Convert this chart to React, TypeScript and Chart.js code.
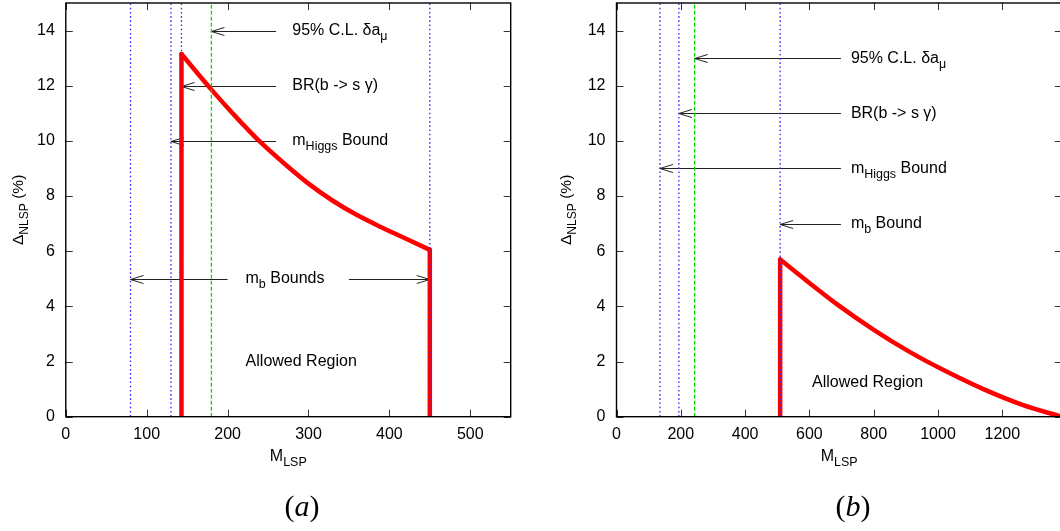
import React, { useEffect, useRef } from 'react';
import { Chart, registerables } from 'chart.js';

Chart.register(...registerables);

const FONT = '"Liberation Sans", Arial, Helvetica, sans-serif';
const SERIF = '"Liberation Serif", "DejaVu Serif", serif';

// ---------------- Panel (a) data ----------------
const A_X_MAX = 550;
const A_X_TICKS = [0, 100, 200, 300, 400, 500];
const A_CURVE_X = [143, 180, 210, 240, 270, 300, 330, 360, 390, 420, 450];
const A_CURVE_Y = [13.15, 11.86, 10.88, 9.97, 9.18, 8.45, 7.83, 7.31, 6.87, 6.46, 6.05];
const A_WALL_X = [143, 450];
const A_WALL_TOP = [13.15, 6.05];
const A_BLUE_X = [80, 130, 143, 450];
const A_GREEN_X = [180];
const A_LABELS = ['95% C.L. δa_{μ}', 'BR(b -> s γ)', 'm_{Higgs} Bound'];
const A_LABEL_Y = [14, 12, 10];
const A_ARROW_TIP = [180, 143, 130];
const A_ARROW_TAIL = 260;
const A_LABEL_X = 280;
const A_MB_LABEL = 'm_{b} Bounds';
const A_MB_Y = 5;
const A_MB_TAILS = [200, 350];
const A_MB_TIPS = [80, 450];
const A_MB_X = 271;
const A_ALLOWED = { x: 291, y: 2.0 };

// ---------------- Panel (b) data ----------------
const B_X_MAX = 1385;
const B_X_TICKS = [0, 200, 400, 600, 800, 1000, 1200];
const B_CURVE_X = [509, 602, 685, 799, 913, 1017, 1141, 1265, 1385];
const B_CURVE_Y = [5.7, 4.83, 4.08, 3.16, 2.34, 1.69, 1.0, 0.42, 0.0];
const B_WALL_X = [509];
const B_WALL_TOP = [5.7];
const B_BLUE_X = [135, 194, 509];
const B_GREEN_X = [243];
const B_LABELS = ['95% C.L. δa_{μ}', 'BR(b -> s γ)', 'm_{Higgs} Bound', 'm_{b} Bound'];
const B_LABEL_Y = [13, 11, 9, 7];
const B_ARROW_TIP = [243, 194, 135, 509];
const B_ARROW_TAIL = 698;
const B_LABEL_X = 729;
const B_ALLOWED = { x: 781, y: 1.22 };

const Y_MAX = 15;
const Y_TICKS = [0, 2, 4, 6, 8, 10, 12, 14];
const Y_TITLE = 'Δ_{NLSP} (%)';
const X_TITLE = 'M_{LSP}';

type Arrow = { tail: number; tip: number; y: number };
type Label = { x: number; y: number; text: string; align: 'left' | 'center' };
type Panel = {
  xMax: number; xTicks: number[];
  curveX: number[]; curveY: number[];
  wallX: number[]; wallTop: number[];
  blueX: number[]; greenX: number[];
  arrows: Arrow[]; labels: Label[];
  caption: string;
  canvasW: number; offsetX: number; yAxisW: number; padRight: number;
  yTitleDx: number; captionX: number;
};

const PANEL_A: Panel = {
  xMax: A_X_MAX, xTicks: A_X_TICKS,
  curveX: A_CURVE_X, curveY: A_CURVE_Y,
  wallX: A_WALL_X, wallTop: A_WALL_TOP,
  blueX: A_BLUE_X, greenX: A_GREEN_X,
  arrows: [
    ...A_ARROW_TIP.map((tip, i) => ({ tail: A_ARROW_TAIL, tip, y: A_LABEL_Y[i] })),
    ...A_MB_TIPS.map((tip, i) => ({ tail: A_MB_TAILS[i], tip, y: A_MB_Y })),
  ],
  labels: [
    ...A_LABELS.map((text, i) => ({ x: A_LABEL_X, y: A_LABEL_Y[i], text, align: 'left' as const })),
    { x: A_MB_X, y: A_MB_Y, text: A_MB_LABEL, align: 'center' },
    { x: A_ALLOWED.x, y: A_ALLOWED.y, text: 'Allowed Region', align: 'center' },
  ],
  caption: 'a',
  canvasW: 530, offsetX: 0, yAxisW: 65.8, padRight: 19.3, yTitleDx: 47.5, captionX: 302,
};

const PANEL_B: Panel = {
  xMax: B_X_MAX, xTicks: B_X_TICKS,
  curveX: B_CURVE_X, curveY: B_CURVE_Y,
  wallX: B_WALL_X, wallTop: B_WALL_TOP,
  blueX: B_BLUE_X, greenX: B_GREEN_X,
  arrows: B_ARROW_TIP.map((tip, i) => ({ tail: B_ARROW_TAIL, tip, y: B_LABEL_Y[i] })),
  labels: [
    ...B_LABELS.map((text, i) => ({ x: B_LABEL_X, y: B_LABEL_Y[i], text, align: 'left' as const })),
    { x: B_ALLOWED.x, y: B_ALLOWED.y, text: 'Allowed Region', align: 'center' },
  ],
  caption: 'b',
  canvasW: 540, offsetX: 530, yAxisW: 86.5, padRight: 8.2, yTitleDx: 50, captionX: 323,
};

const H = 531;
const PLOT_TOP = 3;
const PLOT_BOTTOM = 416.7;

function parseRich(s: string) {
  const parts: { t: string; sub: boolean }[] = [];
  const re = /_\{([^}]*)\}/g;
  let last = 0;
  let m: RegExpExecArray | null;
  while ((m = re.exec(s))) {
    if (m.index > last) parts.push({ t: s.slice(last, m.index), sub: false });
    parts.push({ t: m[1], sub: true });
    last = m.index + m[0].length;
  }
  if (last < s.length) parts.push({ t: s.slice(last), sub: false });
  return parts;
}

function drawRich(ctx: CanvasRenderingContext2D, s: string, x: number, y: number, align: 'left' | 'center', size: number) {
  const parts = parseRich(s);
  const subSize = size * 0.78;
  let w = 0;
  for (const p of parts) {
    ctx.font = `${p.sub ? subSize : size}px ${FONT}`;
    w += ctx.measureText(p.t).width;
  }
  let cx = align === 'center' ? x - w / 2 : x;
  ctx.textAlign = 'left';
  ctx.textBaseline = 'middle';
  for (const p of parts) {
    ctx.font = `${p.sub ? subSize : size}px ${FONT}`;
    ctx.fillText(p.t, cx, p.sub ? y + 6 : y);
    cx += ctx.measureText(p.t).width;
  }
}

function makePlugin(panel: Panel) {
  return {
    id: 'gnuframe',
    beforeDatasetsDraw(chart: any) {
      const { ctx } = chart;
      const xs = chart.scales.x;
      const ys = chart.scales.y;
      ctx.save();
      ctx.strokeStyle = '#222';
      ctx.lineWidth = 1;
      for (const a of panel.arrows) {
        const x1 = xs.getPixelForValue(a.tail);
        const x2 = xs.getPixelForValue(a.tip);
        const y = Math.round(ys.getPixelForValue(a.y)) + 0.5;
        const dir = Math.sign(x1 - x2);
        ctx.beginPath();
        ctx.moveTo(x1, y);
        ctx.lineTo(x2, y);
        ctx.moveTo(x2 + dir * 13, y - 4);
        ctx.lineTo(x2, y);
        ctx.lineTo(x2 + dir * 13, y + 4);
        ctx.stroke();
      }
      ctx.restore();
    },
    afterDatasetsDraw(chart: any) {
      const { ctx, chartArea } = chart;
      const { left, right, top, bottom } = chartArea;
      const xs = chart.scales.x;
      const ys = chart.scales.y;
      ctx.save();
      ctx.strokeStyle = '#333';
      ctx.lineWidth = 1;
      ctx.beginPath();
      for (const t of xs.ticks) {
        const px = Math.round(xs.getPixelForValue(t.value)) + 0.5;
        ctx.moveTo(px, bottom);
        ctx.lineTo(px, bottom - 7);
        ctx.moveTo(px, top);
        ctx.lineTo(px, top + 7);
      }
      for (const t of ys.ticks) {
        const py = Math.round(ys.getPixelForValue(t.value)) + 0.5;
        ctx.moveTo(left, py);
        ctx.lineTo(left + 7, py);
        ctx.moveTo(right, py);
        ctx.lineTo(right - 7, py);
      }
      ctx.stroke();
      ctx.strokeStyle = '#000';
      ctx.lineWidth = 1.4;
      ctx.strokeRect(left, top, right - left, bottom - top);
      ctx.fillStyle = '#000';
      for (const l of panel.labels) {
        drawRich(ctx, l.text, xs.getPixelForValue(l.x), ys.getPixelForValue(l.y), l.align, 16);
      }
      drawRich(ctx, X_TITLE, (left + right) / 2, 457, 'center', 16);
      ctx.save();
      ctx.translate(left - panel.yTitleDx, (top + bottom) / 2);
      ctx.rotate(-Math.PI / 2);
      drawRich(ctx, Y_TITLE, 0, 0, 'center', 15.5);
      ctx.restore();
      const parts = [
        { t: '(', f: `30px ${SERIF}` },
        { t: panel.caption, f: `italic 30px ${SERIF}` },
        { t: ')', f: `30px ${SERIF}` },
      ];
      let w = 0;
      for (const p of parts) { ctx.font = p.f; w += ctx.measureText(p.t).width; }
      let cx = panel.captionX - w / 2;
      ctx.textBaseline = 'middle';
      ctx.textAlign = 'left';
      for (const p of parts) {
        ctx.font = p.f;
        ctx.fillText(p.t, cx, 508);
        cx += ctx.measureText(p.t).width;
      }
      ctx.restore();
    },
  };
}

function buildConfig(panel: Panel): any {
  const datasets: any[] = [];
  const common = { showLine: true, pointRadius: 0, pointHoverRadius: 0, tension: 0, fill: false };
  panel.blueX.forEach((x) => datasets.push({
    ...common, data: [{ x, y: 0 }, { x, y: Y_MAX }],
    borderColor: '#2a2aff', borderWidth: 1.3, borderDash: [1.6, 2.6],
  }));
  panel.greenX.forEach((x) => datasets.push({
    ...common, data: [{ x, y: 0 }, { x, y: Y_MAX }],
    borderColor: '#00dd00', borderWidth: 1.3, borderDash: [4, 2],
  }));
  panel.wallX.forEach((x, i) => datasets.push({
    ...common, data: [{ x, y: 0 }, { x, y: panel.wallTop[i] }],
    borderColor: '#ff0000', borderWidth: 4.5, borderCapStyle: 'round',
  }));
  datasets.push({
    ...common,
    data: panel.curveX.map((x, i) => ({ x, y: panel.curveY[i] })),
    borderColor: '#ff0000', borderWidth: 4.5, borderCapStyle: 'round', borderJoinStyle: 'round',
    cubicInterpolationMode: 'monotone',
  });

  const zeroPad = (s: any) => { s.paddingTop = 0; s.paddingBottom = 0; s.paddingLeft = 0; s.paddingRight = 0; };

  return {
    type: 'scatter',
    data: { datasets },
    plugins: [makePlugin(panel)],
    options: {
      animation: false,
      responsive: false,
      devicePixelRatio: 1,
      events: [],
      layout: { padding: { top: PLOT_TOP, left: 0, right: panel.padRight, bottom: 0 } },
      plugins: { legend: { display: false }, tooltip: { enabled: false }, title: { display: false } },
      scales: {
        x: {
          type: 'linear', min: 0, max: panel.xMax,
          grid: { display: false, drawTicks: false },
          border: { display: false },
          ticks: {
            autoSkip: false, maxRotation: 0,
            color: '#000', padding: 8, font: { family: FONT, size: 16 },
            callback: (v: any) => String(v),
          },
          afterBuildTicks: (s: any) => { s.ticks = panel.xTicks.map((value) => ({ value })); },
          afterFit: (s: any) => { s.height = H - PLOT_BOTTOM; zeroPad(s); },
        },
        y: {
          type: 'linear', min: 0, max: Y_MAX,
          grid: { display: false, drawTicks: false },
          border: { display: false },
          ticks: {
            autoSkip: false,
            color: '#000', padding: 11, font: { family: FONT, size: 16 },
            callback: (v: any) => String(v),
          },
          afterBuildTicks: (s: any) => { s.ticks = Y_TICKS.map((value) => ({ value })); },
          afterFit: (s: any) => { s.width = panel.yAxisW; zeroPad(s); },
        },
      },
    },
  };
}

function PanelChart({ panel }: { panel: Panel }) {
  const ref = useRef<HTMLCanvasElement>(null);
  useEffect(() => {
    const chart = new Chart(ref.current as HTMLCanvasElement, buildConfig(panel));
    return () => chart.destroy();
  }, [panel]);
  return (
    <canvas
      ref={ref}
      width={panel.canvasW}
      height={H}
      style={{ position: 'absolute', left: panel.offsetX, top: 0, width: panel.canvasW, height: H }}
    />
  );
}

export default function App() {
  return (
    <>
      <style>{'html,body{margin:0;padding:0;overflow:hidden;background:#fff}'}</style>
      <div style={{ position: 'relative', width: 1060, height: H, overflow: 'hidden', background: '#fff' }}>
        <PanelChart panel={PANEL_A} />
        <PanelChart panel={PANEL_B} />
      </div>
    </>
  );
}
